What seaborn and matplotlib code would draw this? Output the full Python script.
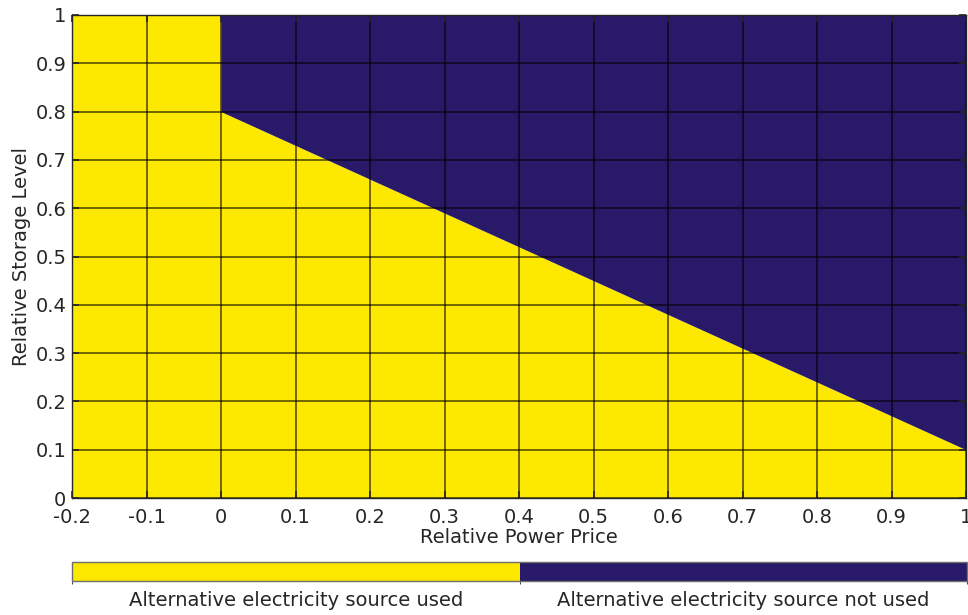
import numpy as np
import matplotlib
matplotlib.use("Agg")
import matplotlib.pyplot as plt
from matplotlib.colors import ListedColormap, BoundaryNorm
import matplotlib.cm as cm
import seaborn as sns

# Decision boundary: storage level above which the alternative source is not used
price_points = [-0.2, 0.0, 0.0, 1.0]
storage_threshold = [1.0, 1.0, 0.8, 0.1]

x_ticks = [-0.2, -0.1, 0, 0.1, 0.2, 0.3, 0.4, 0.5, 0.6, 0.7, 0.8, 0.9, 1]
x_tick_labels = ["-0.2", "-0.1", "0", "0.1", "0.2", "0.3", "0.4", "0.5", "0.6", "0.7", "0.8", "0.9", "1"]
y_ticks = [0, 0.1, 0.2, 0.3, 0.4, 0.5, 0.6, 0.7, 0.8, 0.9, 1]
y_tick_labels = ["0", "0.1", "0.2", "0.3", "0.4", "0.5", "0.6", "0.7", "0.8", "0.9", "1"]
class_labels = ["Alternative electricity source used", "Alternative electricity source not used"]

yellow = "#FDE800"
navy = "#281A69"
text_color = "#262626"
fs = 14

sns.set_style("ticks")
plt.rcParams["font.family"] = ["DejaVu Sans"]
plt.rcParams["text.color"] = text_color
plt.rcParams["axes.labelcolor"] = text_color
plt.rcParams["xtick.color"] = text_color
plt.rcParams["ytick.color"] = text_color

fig = plt.figure(figsize=(9.68, 6.15), dpi=100)
ax = fig.add_axes([72 / 968, 117 / 615, 894 / 968, 483 / 615])

px = np.array(price_points)
py = np.array(storage_threshold)
ax.fill_between(px, 0, py, color=yellow, linewidth=0, zorder=1)
ax.fill_between(px, py, 1, color=navy, linewidth=0, zorder=1)

ax.set_xlim(-0.2, 1)
ax.set_ylim(0, 1)
ax.set_xticks(x_ticks)
ax.set_xticklabels(x_tick_labels)
ax.set_yticks(y_ticks)
ax.set_yticklabels(y_tick_labels)
ax.tick_params(direction="in", length=5, width=1.2, labelsize=fs,
               top=True, right=True, colors=text_color)
ax.tick_params(axis="x", pad=7)
ax.tick_params(axis="y", pad=4)
ax.set_axisbelow(False)
ax.grid(True, color="black", alpha=0.6, linewidth=1.3, zorder=2)
for s in ax.spines.values():
    s.set_color(text_color)
    s.set_linewidth(1.0)
    s.set_zorder(3)
ax.set_xlabel("Relative Power Price", fontsize=fs, labelpad=1)
ax.set_ylabel("Relative Storage Level", fontsize=fs, labelpad=3)

# Two-class colour bar beneath the axes
cax = fig.add_axes([72 / 968, 34 / 615, 895 / 968, 19 / 615])
cmap = ListedColormap([yellow, navy])
norm = BoundaryNorm([0, 0.5, 1], cmap.N)
cb = fig.colorbar(cm.ScalarMappable(norm=norm, cmap=cmap), cax=cax, orientation="horizontal")
cb.set_ticks([0.25, 0.75])
cb.set_ticklabels(class_labels)
cax.tick_params(direction="in", length=4, width=0.8, labelsize=fs, pad=7, colors=text_color)
cb.outline.set_edgecolor("#6e6e6e")
cb.outline.set_linewidth(1.0)

fig.savefig("out.png", dpi=100)
